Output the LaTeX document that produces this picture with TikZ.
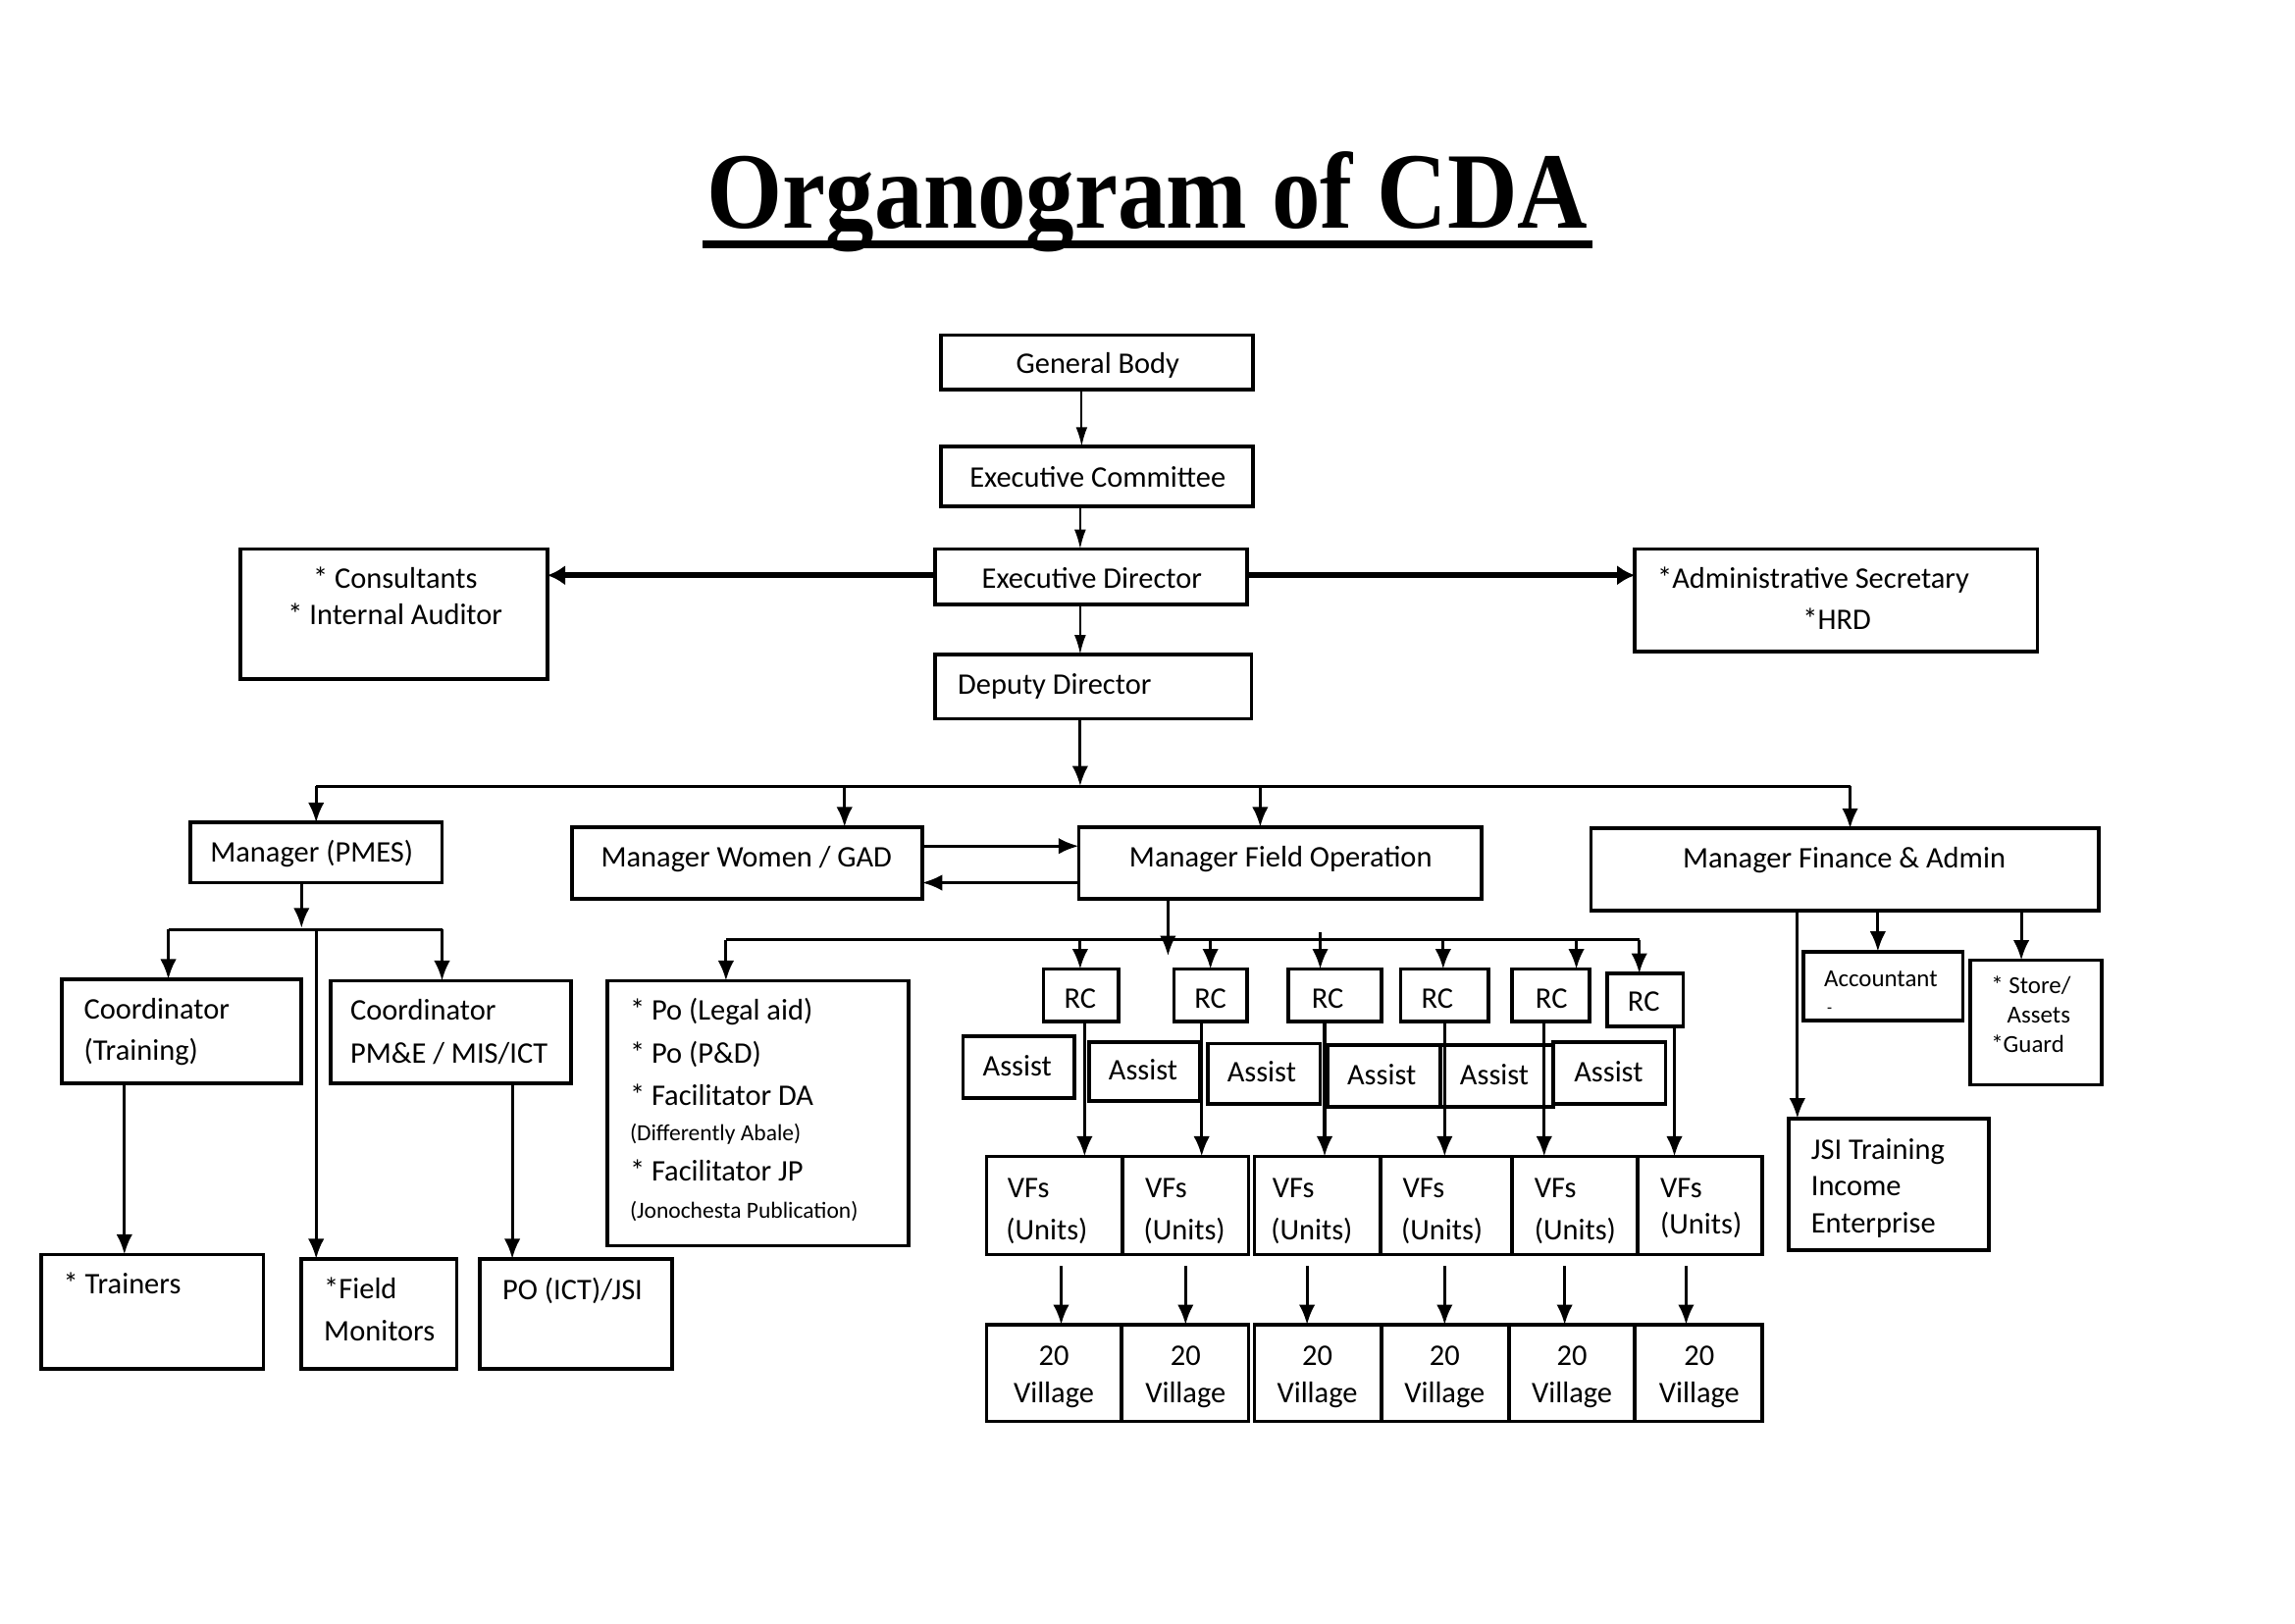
\documentclass[tikz,border=0pt]{standalone}
\usepackage{fontspec}
\setmainfont{Carlito}
\newfontfamily\titlefont{Liberation Serif}
\usetikzlibrary{arrows.meta,calc}
\newcommand\ubx[5]{\node[obx,anchor=north west,minimum width={(#4-#2)*0.189413mm},minimum height={(#5-#3)*0.189413mm}] (#1) at (#2,#3) {};}
\newcommand\txl[4]{\node[tx,anchor=base west] (#1) at (#2,#3) {#4};}
\newcommand\txc[4]{\node[tx,anchor=base] (#1) at (#2,#3) {#4};}
\newcommand\txs[4]{\node[tx,sm,anchor=base west] (#1) at (#2,#3) {#4};}
\begin{document}
\begin{tikzpicture}[x=0.189413mm,y=-0.189413mm,
  obx/.style={draw,line width=1.35pt,inner sep=0pt,outer sep=0pt},
  tx/.style={inner sep=0pt,font=\fontsize{11}{13}\selectfont},
  sm/.style={font=\fontsize{9}{11}\selectfont},
  tiny/.style={font=\fontsize{8.5}{10}\selectfont},
  arr/.style={line width=1.1pt,-{Latex[length=2.6mm,width=2.1mm]}},
  tarr/.style={line width=0.7pt,-{Latex[length=2.5mm,width=1.5mm]}},
  karr/.style={line width=2pt,-{Latex[length=2.3mm,width=2.6mm]}},
  ln/.style={line width=1.1pt}]
\useasboundingbox (0,0) rectangle (1568,1109);
\fill[white] (0,0) rectangle (1568,1109);
% title
\node[inner sep=0pt,anchor=base] (title) at (784,156) {\scalebox{0.895}[1]{\titlefont\fontsize{40}{44}\selectfont\bfseries Organogram of CDA}};
\draw[line width=1.1mm] (480,167) -- (1088,167);
% boxes
\ubx{gb}{643}{229}{856}{266}
\ubx{ec}{643}{305}{856}{346}
\ubx{ed}{639}{375}{852}{413}
\ubx{dd}{639}{447}{855}{491}
\ubx{cons}{164}{375}{374}{464}
\ubx{adm}{1117}{375}{1392}{445}
\ubx{pmes}{130}{562}{302}{603}
\ubx{mwg}{391}{565}{630}{614}
\ubx{mfo}{737}{565}{1012}{614}
\ubx{mfa}{1087}{566}{1434}{622}
\ubx{ct}{42}{669}{206}{740}
\ubx{cp}{226}{670}{390}{740}
\ubx{tr}{28}{857}{180}{935}
\ubx{fm}{206}{860}{312}{935}
\ubx{poi}{328}{860}{459}{935}
\ubx{pob}{415}{670}{621}{851}
\ubx{rc1}{713}{662}{764}{698}
\ubx{rc2}{802}{662}{852}{698}
\ubx{rc3}{880}{662}{944}{698}
\ubx{rc4}{957}{662}{1017}{698}
\ubx{rc5}{1033}{662}{1086}{698}
\ubx{rc6}{1098}{665}{1150}{701}
\ubx{a1}{658}{708}{734}{750}
\ubx{a2}{744}{712}{820}{752}
\ubx{a3}{825}{713}{902}{754}
\ubx{a4}{907}{714}{984}{756}
\ubx{a5}{984}{714}{1061}{756}
\ubx{a6}{1061}{712}{1138}{754}
\ubx{v1}{674}{790}{767}{857}
\ubx{v2}{767}{790}{853}{857}
\ubx{v3}{857}{790}{943}{857}
\ubx{v4}{943}{790}{1033}{857}
\ubx{v5}{1033}{790}{1119}{857}
\ubx{v6}{1119}{790}{1204}{857}
\ubx{g1}{674}{905}{766}{971}
\ubx{g2}{766}{905}{853}{971}
\ubx{g3}{857}{905}{944}{971}
\ubx{g4}{944}{905}{1031}{971}
\ubx{g5}{1031}{905}{1117}{971}
\ubx{g6}{1117}{905}{1204}{971}
\ubx{acc}{1232}{650}{1341}{697}
\ubx{sto}{1346}{656}{1436}{741}
\ubx{jsi}{1222}{764}{1359}{854}
% texts
\txc{t1}{750}{255}{General Body}
\txc{t2}{750}{333}{Executive Committee}
\txc{t3}{746}{402}{Executive Director}
\txl{t4}{654}{474}{Deputy Director}
\txc{t5}{270}{402}{* Consultants}
\txc{t6}{270}{427}{* Internal Auditor}
\txl{t7}{1132}{402}{*Administrative Secretary}
\txc{t8}{1255}{430}{*HRD}
\txc{t9}{213}{589}{Manager (PMES)}
\txc{t10}{510}{592}{Manager Women / GAD}
\txc{t11}{875}{592}{Manager Field Operation}
\txc{t12}{1260}{593}{Manager Finance \& Admin}
\txl{t13}{57}{696}{Coordinator}
\txl{t14}{57}{724}{(Training)}
\txl{t15}{239}{697}{Coordinator}
\txl{t16}{239}{726}{PM\&E / MIS/ICT}
\txl{t17}{43}{884}{* Trainers}
\txl{t18}{221}{887}{*Field}
\txl{t19}{221}{916}{Monitors}
\txl{t20}{343}{888}{PO (ICT)/JSI}
\txl{t21}{430}{697}{* Po (Legal aid)}
\txl{t22}{430}{726}{* Po (P\&D)}
\txl{t23}{430}{755}{* Facilitator DA}
\node[tx,tiny,anchor=base west] (t24) at (430,779) {(Differently Abale)};
\txl{t25}{430}{807}{* Facilitator JP}
\node[tx,tiny,anchor=base west] (t26) at (430,832) {(Jonochesta Publication)};
\txc{r1}{738}{689}{RC}
\txc{r2}{827}{689}{RC}
\txc{r3}{907}{689}{RC}
\txc{r4}{982}{689}{RC}
\txc{r5}{1060}{689}{RC}
\txc{r6}{1123}{691}{RC}
\txc{s1}{695}{735}{Assist}
\txc{s2}{781}{738}{Assist}
\txc{s3}{862}{739}{Assist}
\txc{s4}{944}{741}{Assist}
\txc{s5}{1021}{741}{Assist}
\txc{s6}{1099}{739}{Assist}
\txl{u1}{688}{818}{VFs}
\txl{w1}{687}{847}{(Units)}
\txl{u2}{782}{818}{VFs}
\txl{w2}{781}{847}{(Units)}
\txl{u3}{869}{818}{VFs}
\txl{w3}{868}{847}{(Units)}
\txl{u4}{958}{818}{VFs}
\txl{w4}{957}{847}{(Units)}
\txl{u5}{1048}{818}{VFs}
\txl{w5}{1048}{847}{(Units)}
\txl{u6}{1134}{818}{VFs}
\txl{w6}{1134}{843}{(Units)}
\txc{n1}{720}{933}{20}
\txc{m1}{720}{958}{Village}
\txc{n2}{810}{933}{20}
\txc{m2}{810}{958}{Village}
\txc{n3}{900}{933}{20}
\txc{m3}{900}{958}{Village}
\txc{n4}{987}{933}{20}
\txc{m4}{987}{958}{Village}
\txc{n5}{1074}{933}{20}
\txc{m5}{1074}{958}{Village}
\txc{n6}{1161}{933}{20}
\txc{m6}{1161}{958}{Village}
\node[tx,sm,anchor=base] (t27) at (1285,674) {Accountant};
\node[tx,font=\fontsize{6}{7}\selectfont,anchor=base] (t28) at (1250,692) {-};
\txs{t29}{1360}{679}{* Store/}
\txs{t30}{1371}{699}{Assets}
\txs{t31}{1360}{719}{*Guard}
\txl{t32}{1237}{792}{JSI Training}
\txl{t33}{1237}{817}{Income}
\txl{t34}{1237}{842}{Enterprise}
% top connectors
\draw[tarr] (739,0 |- gb.south) -- (739,0 |- ec.north);
\draw[tarr] (738,0 |- ec.south) -- (738,0 |- ed.north);
\draw[tarr] (738,0 |- ed.south) -- (738,0 |- dd.north);
\draw[karr] (ed.west |- 0,393) -- (cons.east |- 0,393);
\draw[karr] (ed.east |- 0,393) -- (adm.west |- 0,393);
% deputy director bus
\coordinate (bL) at (216,537);
\coordinate (bR) at (1264,537);
\draw[arr] (738,0 |- dd.south) -- (738,537);
\draw[ln] (bL) -- (bR);
\draw[arr] (bL) -- (216,0 |- pmes.north);
\draw[arr] (577,537) -- (577,0 |- mwg.north);
\draw[arr] (861,537) -- (861,0 |- mfo.north);
\draw[arr] (bR) -- (1264,0 |- mfa.north);
\draw[arr] (mwg.east |- 0,578) -- (mfo.west |- 0,578);
\draw[arr] (mfo.west |- 0,603) -- (mwg.east |- 0,603);
% PMES branch
\coordinate (pL) at (115,635);
\coordinate (pR) at (302,635);
\draw[arr] (206,0 |- pmes.south) -- (206,634);
\draw[ln] (pL) -- (pR);
\draw[arr] (pL) -- (115,0 |- ct.north);
\draw[arr] (pR) -- (302,0 |- cp.north);
\draw[arr] (216,635) -- (216,0 |- fm.north);
\draw[arr] (85,0 |- ct.south) -- (85,0 |- tr.north);
\draw[arr] (350,0 |- cp.south) -- (350,0 |- poi.north);
% field operation branch
\coordinate (fL) at (496,642);
\coordinate (fR) at (1120,642);
\draw[ln] (fL) -- (fR);
\draw[arr] (798,0 |- mfo.south) -- (798,653);
\draw[arr] (fL) -- (496,0 |- pob.north);
\draw[arr] (738,642) -- (738,0 |- rc1.north);
\draw[arr] (827,642) -- (827,0 |- rc2.north);
\draw[arr] (902,637) -- (902,0 |- rc3.north);
\draw[arr] (986,642) -- (986,0 |- rc4.north);
\draw[arr] (1077,642) -- (1077,0 |- rc5.north);
\draw[arr] (fR) -- (1120,0 |- rc6.north);
\draw[arr] (741,0 |- rc1.south) -- (741,0 |- v1.north);
\draw[arr] (821,0 |- rc2.south) -- (821,0 |- v2.north);
\draw[arr] (905,0 |- rc3.south) -- (905,0 |- v3.north);
\draw[arr] (987,0 |- rc4.south) -- (987,0 |- v4.north);
\draw[arr] (1055,0 |- rc5.south) -- (1055,0 |- v5.north);
\draw[arr] (1144,0 |- rc6.south) -- (1144,0 |- v6.north);
\draw[arr] ($(725,0 |- v1.south)+(0,8)$) -- (725,0 |- g1.north);
\draw[arr] ($(810,0 |- v2.south)+(0,8)$) -- (810,0 |- g2.north);
\draw[arr] ($(893,0 |- v3.south)+(0,8)$) -- (893,0 |- g3.north);
\draw[arr] ($(987,0 |- v4.south)+(0,8)$) -- (987,0 |- g4.north);
\draw[arr] ($(1069,0 |- v5.south)+(0,8)$) -- (1069,0 |- g5.north);
\draw[arr] ($(1152,0 |- v6.south)+(0,8)$) -- (1152,0 |- g6.north);
% finance branch
\draw[arr] (1228,0 |- mfa.south) -- (1228,0 |- jsi.north);
\draw[arr] (1283,0 |- mfa.south) -- (1283,0 |- acc.north);
\draw[arr] (1381,0 |- mfa.south) -- (1381,0 |- sto.north);
\end{tikzpicture}
\end{document}
